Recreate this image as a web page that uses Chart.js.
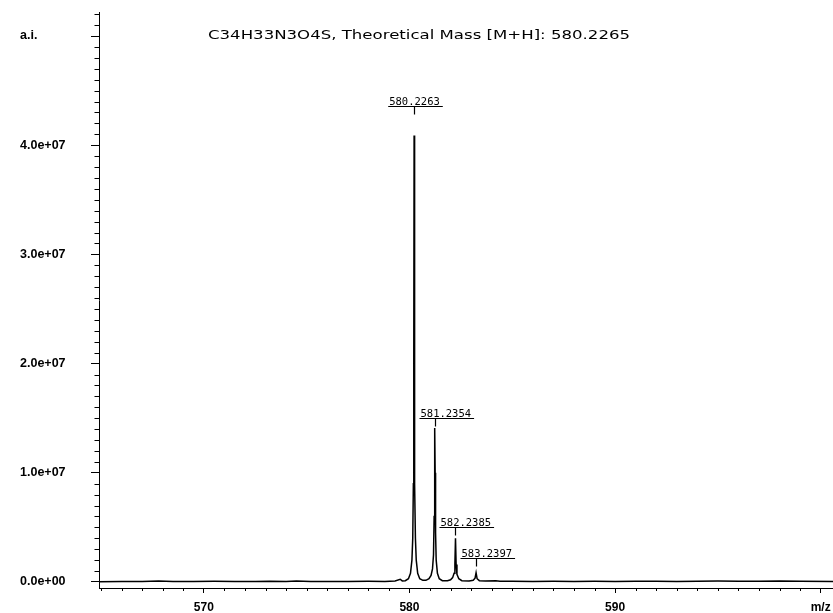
<!DOCTYPE html>
<html><head><meta charset="utf-8">
<script src="https://cdn.jsdelivr.net/npm/chart.js@4/dist/chart.umd.min.js"></script>
<style>html,body{margin:0;padding:0;background:#fff}#wrap{width:833px;height:613px;position:relative}</style>
</head><body><div id="wrap"><canvas id="c"></canvas></div>
<script>
const titleText = 'C34H33N3O4S, Theoretical Mass [M+H]: 580.2265';

// spectrum profile (m/z, intensity in units of 1e7 counts)
const mzValues = [
  564.9, 566.0, 567.0, 567.8, 568.5, 569.5, 570.5, 571.5, 572.5, 573.2, 574.0, 574.5, 575.2, 576.0, 577.0, 578.0, 578.8, 579.3,
  579.55, 579.65, 579.8, 579.95, 580.05, 580.12, 580.16, 580.19, 580.21, 580.226, 580.24, 580.26, 580.29, 580.33, 580.4, 580.5,
  580.65, 580.8, 580.95, 581.05, 581.12, 581.17, 581.2, 581.22, 581.235, 581.25, 581.27, 581.3, 581.36, 581.45, 581.6,
  581.85, 582.0, 582.1, 582.17, 582.21, 582.239, 582.27, 582.31, 582.4, 582.55, 582.9, 583.1, 583.19, 583.24, 583.29,
  583.4, 583.7, 584.2, 584.4, 585.0, 586.0, 587.0, 588.0, 589.0, 590.0, 591.0, 592.0, 593.0, 594.0, 595.0, 596.0, 597.0,
  598.0, 599.0, 600.6
];
const intensityE7 = [
  0.003, 0.005, 0.004, 0.008, 0.005, 0.004, 0.006, 0.005, 0.004, 0.007, 0.005, 0.008, 0.005, 0.004, 0.005, 0.006, 0.005, 0.010,
  0.025, 0.010, 0.012, 0.030, 0.080, 0.200, 0.400, 0.900, 2.000, 4.090, 2.000, 0.900, 0.400, 0.200, 0.080, 0.030,
  0.015, 0.015, 0.030, 0.060, 0.120, 0.250, 0.600, 1.000, 1.410, 1.000, 0.450, 0.200, 0.080, 0.030, 0.012,
  0.012, 0.020, 0.040, 0.080, 0.160, 0.400, 0.160, 0.070, 0.030, 0.012, 0.010, 0.015, 0.035, 0.085, 0.030,
  0.012, 0.008, 0.012, 0.007, 0.006, 0.005, 0.007, 0.005, 0.006, 0.005, 0.007, 0.006, 0.005, 0.006, 0.008, 0.006, 0.007,
  0.009, 0.006, 0.005
];

// annotated peaks
const peakMz = [580.2263, 581.2354, 582.2385, 583.2397];
const peakIntensityE7 = [4.09, 1.41, 0.40, 0.085];
const peakLabels = ['580.2263', '581.2354', '582.2385', '583.2397'];

// axis ticks
const yTickValues = [0, 1e7, 2e7, 3e7, 4e7, 5e7];
const yTickLabels = ['0.0e+00', '1.0e+07', '2.0e+07', '3.0e+07', '4.0e+07', 'a.i.'];
const xTickValues = [570, 580, 590, 600];
const xTickLabels = ['570', '580', '590', 'm/z'];

const points = mzValues.map((m, i) => ({ x: m, y: intensityE7[i] * 1e7 }));

function isMajor(list, v) { return list.some(t => Math.abs(t - v) < 1e-6 * Math.max(1, Math.abs(t))); }

const decor = {
  id: 'decor',
  afterDraw(chart, args, opts) {
    const { ctx, chartArea, scales: { x, y } } = chart;
    ctx.save();
    ctx.strokeStyle = '#000';
    ctx.fillStyle = '#000';
    ctx.lineWidth = 1;
    ctx.beginPath();
    y.ticks.forEach(t => {
      if (!isMajor(yTickValues, t.value)) {
        const py = Math.round(y.getPixelForValue(t.value)) + 0.5;
        ctx.moveTo(chartArea.left - 4.5, py); ctx.lineTo(chartArea.left, py);
      }
    });
    x.ticks.forEach(t => {
      if (!isMajor(xTickValues, t.value)) {
        const px = Math.round(x.getPixelForValue(t.value)) + 0.5;
        ctx.moveTo(px, chartArea.bottom); ctx.lineTo(px, chartArea.bottom + 3);
      }
    });
    ctx.stroke();

    // title
    ctx.font = '12.5px "DejaVu Sans"';
    ctx.textAlign = 'center';
    ctx.textBaseline = 'middle';
    const w = ctx.measureText(titleText).width;
    ctx.save();
    ctx.translate(opts.titleX, opts.titleY);
    ctx.scale(opts.titleWidth / w, 1);
    ctx.fillText(titleText, 0, 0);
    ctx.restore();

    // peak labels
    ctx.font = '10.5px "DejaVu Sans Mono"';
    ctx.textAlign = 'left';
    ctx.textBaseline = 'alphabetic';
    ctx.lineWidth = 1.2;
    ctx.beginPath();
    peakMz.forEach((m, i) => {
      const px = Math.round(x.getPixelForValue(m)) + 0.5;
      const top = y.getPixelForValue(peakIntensityE7[i] * 1e7);
      const ul = Math.round(top - opts.lift[i]) + 0.5;
      const tw = ctx.measureText(peakLabels[i]).width;
      const left = opts.align[i] === 'center' ? px - tw / 2 : px - 15;
      ctx.fillText(peakLabels[i], left, ul - 2);
      ctx.moveTo(left - 1, ul); ctx.lineTo(left + tw + 3, ul);
      ctx.moveTo(px, ul); ctx.lineTo(px, ul + 8);
    });
    ctx.stroke();
    ctx.restore();
  }
};

new Chart(document.getElementById('c'), {
  type: 'line',
  data: {
    datasets: [{
      data: points,
      borderColor: '#000',
      borderWidth: 1.5,
      pointRadius: 0,
      tension: 0,
      fill: false
    }]
  },
  options: {
    responsive: true,
    maintainAspectRatio: false,
    animation: false,
    layout: { padding: { left: 20, top: 12, right: 0, bottom: 0 } },
    plugins: {
      legend: { display: false },
      tooltip: { enabled: false },
      decor: { titleX: 419, titleY: 36, titleWidth: 422, lift: [29, 10, 11, 15], align: ['center', 'left', 'left', 'left'] }
    },
    scales: {
      x: {
        type: 'linear',
        min: 564.9,
        max: 600.6,
        afterFit(s) { s.height = 25; s.paddingRight = 0; s.paddingLeft = 0; },
        border: { display: true, color: '#000', width: 1 },
        grid: {
          drawOnChartArea: false, drawTicks: true, tickLength: 5,
          tickColor: c => isMajor(xTickValues, c.tick.value) ? '#000' : 'rgba(0,0,0,0)'
        },
        ticks: {
          stepSize: 1, autoSkip: false, includeBounds: false, maxRotation: 0, padding: 7,
          color: '#000', font: { family: '"Liberation Sans", Arial', size: 12, weight: 'bold' },
          callback: v => { const i = xTickValues.findIndex(t => Math.abs(t - v) < 1e-6); return i >= 0 ? xTickLabels[i] : ''; }
        }
      },
      y: {
        type: 'linear',
        min: -0.055e7,
        max: 5.22e7,
        afterFit(s) { s.width = 79; },
        afterBuildTicks(s) {
          const t = [];
          for (let k = 0; k * 1e6 <= s.max; k++) t.push({ value: k * 1e6 });
          s.ticks = t;
        },
        border: { display: true, color: '#000', width: 1 },
        grid: {
          drawOnChartArea: false, drawTicks: true, tickLength: 8,
          tickColor: c => isMajor(yTickValues, c.tick.value) ? '#000' : 'rgba(0,0,0,0)'
        },
        ticks: {
          autoSkip: false, crossAlign: 'far', padding: 3,
          color: '#000', font: { family: '"Liberation Sans", Arial', size: 12.5, weight: 'bold' },
          callback: v => { const i = yTickValues.findIndex(t => Math.abs(t - v) < 1); return i >= 0 ? yTickLabels[i] : ''; }
        }
      }
    }
  },
  plugins: [decor]
});
</script>
</body></html>
